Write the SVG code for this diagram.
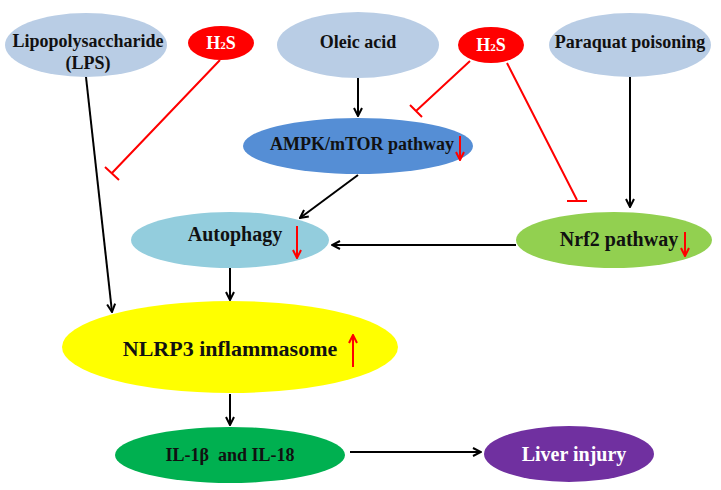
<svg xmlns="http://www.w3.org/2000/svg" width="721" height="490" viewBox="0 0 721 490">
<defs>
<marker id="ah" markerWidth="10" markerHeight="10" refX="9" refY="5" orient="auto" markerUnits="userSpaceOnUse">
<path d="M1,1 L9,5 L1,9" fill="none" stroke="#000" stroke-width="2"/>
</marker>
<marker id="rah" markerWidth="10" markerHeight="10" refX="9" refY="5" orient="auto" markerUnits="userSpaceOnUse">
<path d="M1,1 L9,5 L1,9" fill="none" stroke="#ff0000" stroke-width="2"/>
</marker>
</defs>
<style>
text{font-family:"Liberation Serif","Times New Roman",serif;font-weight:bold;text-anchor:middle;fill:#111;white-space:pre}
.w{fill:#fff}
.c{stroke:#000;stroke-width:2;fill:none;marker-end:url(#ah)}
.inh{stroke:#ff0000;stroke-width:2;fill:none}
.ra{stroke:#ff0000;stroke-width:2;fill:none;marker-end:url(#rah)}
</style>
<rect width="721" height="490" fill="#fff"/>
<g id="connectors">
<line class="c" x1="86" y1="77" x2="112" y2="312"/>
<line class="c" x1="358" y1="77" x2="358" y2="116"/>
<line class="c" x1="630" y1="77" x2="630" y2="207"/>
<line class="c" x1="358" y1="175" x2="300" y2="218"/>
<line class="c" x1="516" y1="245" x2="332" y2="245"/>
<line class="c" x1="230" y1="268" x2="230" y2="300"/>
<line class="c" x1="230" y1="394" x2="230" y2="425"/>
<line class="c" x1="350" y1="452" x2="481" y2="452"/>
<path class="inh" d="M220,60 L112,173 M105,167 L119,180"/>
<path class="inh" d="M470,61 L416,111 M410,105 L422,117"/>
<path class="inh" d="M507,63 L577,200 M567,201 L587,201"/>
</g>
<g id="lps"><ellipse cx="86" cy="45" rx="81" ry="32" fill="#b9cde5"/><text x="88" y="47" font-size="18">Lipopolysaccharide</text><text x="88" y="69" font-size="18">(LPS)</text></g>
<g id="h2s-left"><ellipse cx="221" cy="43" rx="33" ry="17" fill="#ff0000"/><text class="w" x="221" y="49" font-size="18">H<tspan font-size="11">2</tspan>S</text></g>
<g id="oleic"><ellipse cx="358" cy="45" rx="81" ry="33" fill="#b9cde5"/><text x="358" y="48" font-size="18">Oleic acid</text></g>
<g id="h2s-right"><ellipse cx="491" cy="45" rx="33" ry="18" fill="#ff0000"/><text class="w" x="491" y="51" font-size="18">H<tspan font-size="11">2</tspan>S</text></g>
<g id="paraquat"><ellipse cx="630" cy="45" rx="81" ry="32" fill="#b9cde5"/><text x="630" y="48" font-size="18">Paraquat poisoning</text></g>
<g id="ampk"><ellipse cx="358" cy="146" rx="115" ry="28" fill="#558ed5"/><text x="362" y="150" font-size="18">AMPK/mTOR pathway</text><line class="ra" x1="460" y1="136" x2="460" y2="160"/></g>
<g id="autophagy"><ellipse cx="230" cy="240" rx="99" ry="28" fill="#93cddd"/><text x="235" y="241" font-size="20">Autophagy</text><line class="ra" x1="297" y1="226" x2="297" y2="258"/></g>
<g id="nrf2"><ellipse cx="614" cy="240" rx="98" ry="28" fill="#92d050"/><text x="619" y="246" font-size="20">Nrf2 pathway</text><line class="ra" x1="685" y1="232" x2="685" y2="256"/></g>
<g id="nlrp3"><ellipse cx="230" cy="347" rx="168" ry="46" fill="#ffff00"/><text x="230" y="356" font-size="22">NLRP3 inflammasome</text><line class="ra" x1="353" y1="367" x2="353" y2="335"/></g>
<g id="il"><ellipse cx="230" cy="455" rx="115" ry="28" fill="#00b050"/><text x="230" y="461" font-size="18">IL-1β  and IL-18</text></g>
<g id="liver"><ellipse cx="569" cy="454" rx="85" ry="28" fill="#7030a0"/><text class="w" x="574" y="461" font-size="20">Liver injury</text></g>
</svg>
